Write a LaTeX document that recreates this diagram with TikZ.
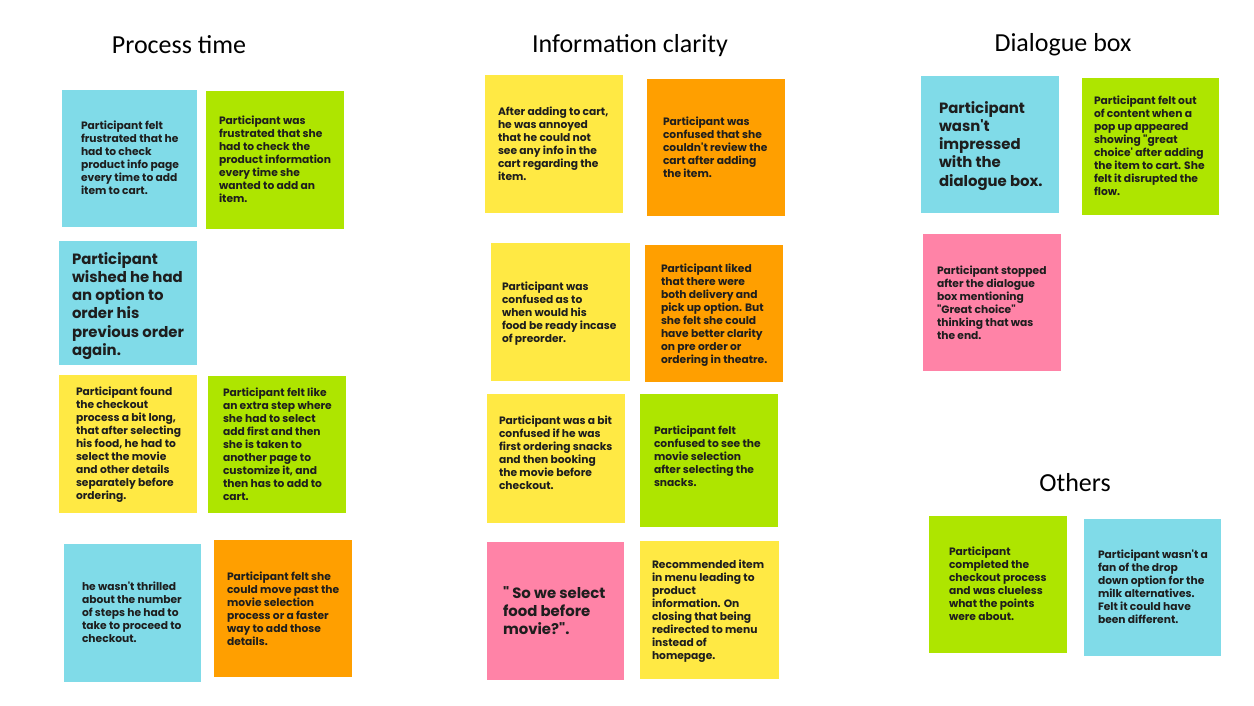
\documentclass[tikz,border=0pt]{standalone}
\usepackage{fontspec}
\newfontfamily\notefont{Poppins}
\newfontfamily\titlefont{Carlito}
\definecolor{nblue}{RGB}{128,219,232}
\definecolor{ngreen}{RGB}{174,229,0}
\definecolor{nyellow}{RGB}{255,233,68}
\definecolor{norange}{RGB}{255,159,0}
\definecolor{npink}{RGB}{255,131,167}
\definecolor{ntext}{RGB}{30,30,30}
\begin{document}
\begin{tikzpicture}[x=1pt,y=-1pt,
  notebox/.style={inner sep=0pt, outer sep=0pt, draw=none, rectangle},
  notebase/.style={anchor=north west, inner sep=0pt, outer sep=0pt, align=left, text=ntext,
    execute at begin node={\rule{0pt}{0.8em}}},
  note/.style={notebase, font=\notefont\bfseries\fontsize{10.7}{13}\selectfont, yshift=8.56pt},
  bignote/.style={notebase, font=\notefont\bfseries\fontsize{14.9}{18.3}\selectfont, yshift=11.92pt},
  heading/.style={anchor=base, inner sep=0pt, font=\titlefont\fontsize{26}{30}\selectfont, text=black}]
\useasboundingbox (0,0) rectangle (1254,705);
\fill[white] (0,0) rectangle (1254,705);

% titles
\node[heading] (t1) at (179,53) {Process time};
\node[heading] (t2) at (630,52) {Information clarity};
\node[heading] (t3) at (1063,51) {Dialogue box};
\node[heading] (t4) at (1075,491) {Others};

% Process time
\node[notebox, fill=nblue, minimum width=135pt, minimum height=137pt] (a1) at (129.5,158.5) {};
\node[note] (a1t) at (81,129) {Participant felt\\frustrated that he\\had to check\\product info page\\every time to add\\item to cart.};
\node[notebox, fill=ngreen, minimum width=138pt, minimum height=138pt] (a2) at (275,160) {};
\node[note] (a2t) at (219,124) {Participant was\\frustrated that she\\had to check the\\product information\\every time she\\wanted to add an\\item.};
\node[notebox, fill=nblue, minimum width=138pt, minimum height=124pt] (a3) at (128,303) {};
\node[bignote] (a3t) at (72,264) {Participant\\wished he had\\an option to\\order his\\previous order\\again.};
\node[notebox, fill=nyellow, minimum width=138pt, minimum height=138pt] (a4) at (128,444) {};
\node[note] (a4t) at (76,395) {Participant found\\the checkout\\process a bit long,\\that after selecting\\his food, he had to\\select the movie\\and other details\\separately before\\ordering.};
\node[notebox, fill=ngreen, minimum width=138pt, minimum height=137pt] (a5) at (277,444.5) {};
\node[note] (a5t) at (223,396) {Participant felt like\\an extra step where\\she had to select\\add first and then\\she is taken to\\another page to\\customize it, and\\then has to add to\\cart.};
\node[notebox, fill=nblue, minimum width=137pt, minimum height=138pt] (a6) at (132.5,613) {};
\node[note] (a6t) at (82,590) {he wasn't thrilled\\about the number\\of steps he had to\\take to proceed to\\checkout.};
\node[notebox, fill=norange, minimum width=138pt, minimum height=137pt] (a7) at (283,608.5) {};
\node[note] (a7t) at (227,580) {Participant felt she\\could move past the\\movie selection\\process or a faster\\way to add those\\details.};

% Information clarity
\node[notebox, fill=nyellow, minimum width=138pt, minimum height=138pt] (b1) at (554,144) {};
\node[note] (b1t) at (498,115) {After adding to cart,\\he was annoyed\\that he could not\\see any info in the\\cart regarding the\\item.};
\node[notebox, fill=norange, minimum width=138pt, minimum height=137pt] (b2) at (716,147.5) {};
\node[note] (b2t) at (663,125) {Participant was\\confused that she\\couldn't review the\\cart after adding\\the item.};
\node[notebox, fill=nyellow, minimum width=139pt, minimum height=138pt] (b3) at (560.5,312) {};
\node[note] (b3t) at (502,290) {Participant was\\confused as to\\when would his\\food be ready incase\\of preorder.};
\node[notebox, fill=norange, minimum width=138pt, minimum height=137pt] (b4) at (714,313.5) {};
\node[note] (b4t) at (661,272) {Participant liked\\that there were\\both delivery and\\pick up option. But\\she felt she could\\have better clarity\\on pre order or\\ordering in theatre.};
\node[notebox, fill=nyellow, minimum width=138pt, minimum height=129pt] (b5) at (556,458.5) {};
\node[note] (b5t) at (499,424) {Participant was a bit\\confused if he was\\first ordering snacks\\and then booking\\the movie before\\checkout.};
\node[notebox, fill=ngreen, minimum width=138pt, minimum height=133pt] (b6) at (709,460.5) {};
\node[note] (b6t) at (654,434) {Participant felt\\confused to see the\\movie selection\\after selecting the\\snacks.};
\node[notebox, fill=npink, minimum width=137pt, minimum height=138pt] (b7) at (555.5,611) {};
\node[bignote] (b7t) at (503,598) {" So we select\\food before\\movie?".};
\node[notebox, fill=nyellow, minimum width=139pt, minimum height=138pt] (b8) at (709.5,610) {};
\node[note] (b8t) at (652,568) {Recommended item\\in menu leading to\\product\\information. On\\closing that being\\redirected to menu\\instead of\\homepage.};

% Dialogue box
\node[notebox, fill=nblue, minimum width=138pt, minimum height=137pt] (c1) at (990,144.5) {};
\node[bignote] (c1t) at (939,113) {Participant\\wasn't\\impressed\\with the\\dialogue box.};
\node[notebox, fill=ngreen, minimum width=137pt, minimum height=137pt] (c2) at (1150.5,146.5) {};
\node[note] (c2t) at (1094,104) {Participant felt out\\of content when a\\pop up appeared\\showing "great\\choice' after adding\\the item to cart. She\\felt it disrupted the\\flow.};
\node[notebox, fill=npink, minimum width=138pt, minimum height=137pt] (c3) at (992,302.5) {};
\node[note] (c3t) at (937,274) {Participant stopped\\after the dialogue\\box mentioning\\"Great choice"\\thinking that was\\the end.};

% Others
\node[notebox, fill=ngreen, minimum width=138pt, minimum height=137pt] (d1) at (998,584.5) {};
\node[note] (d1t) at (949,555) {Participant\\completed the\\checkout process\\and was clueless\\what the points\\were about.};
\node[notebox, fill=nblue, minimum width=137pt, minimum height=137pt] (d2) at (1152.5,587.5) {};
\node[note] (d2t) at (1098,558) {Participant wasn't a\\fan of the drop\\down option for the\\milk alternatives.\\Felt it could have\\been different.};
\end{tikzpicture}
\end{document}
